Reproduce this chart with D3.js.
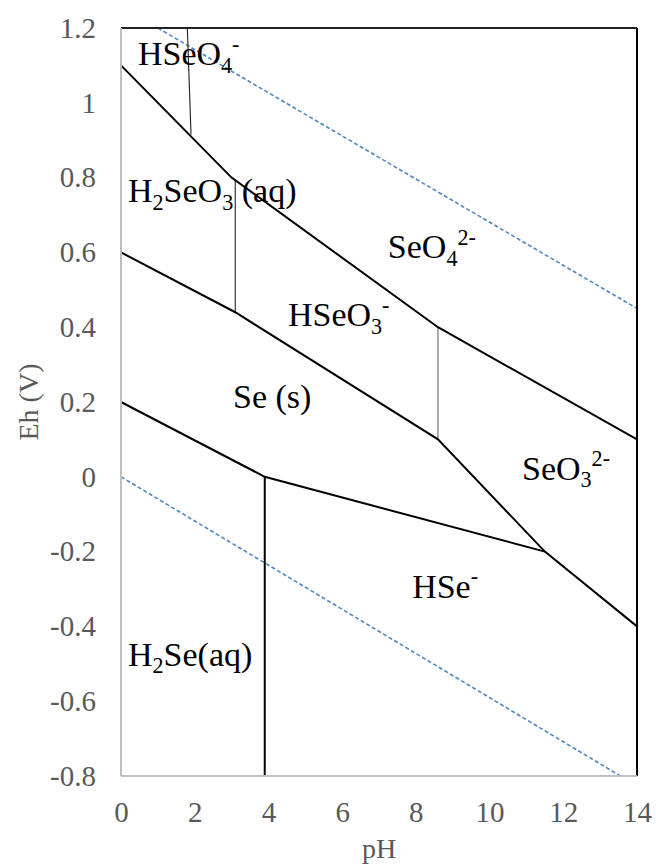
<!DOCTYPE html>
<html>
<head>
<meta charset="utf-8">
<script src="https://cdn.jsdelivr.net/npm/d3@7"></script>
<style>
  body { margin: 0; background: #fff; }
  svg { display: block; }
  svg text { font-family: "Liberation Serif", "Times New Roman", "DejaVu Serif", serif; }
</style>
</head>
<body>
<div id="chart"></div>
<script>
var w = 656;
var h = 867;

// tick labels
var xTicks = [0, 2, 4, 6, 8, 10, 12, 14];
var yTicks = [-0.8, -0.6, -0.4, -0.2, 0, 0.2, 0.4, 0.6, 0.8, 1, 1.2];
var yTickLabels = ["-0.8", "-0.6", "-0.4", "-0.2", "0", "0.2", "0.4", "0.6", "0.8", "1", "1.2"];

// boundary lines, [pH, Eh]
var seO4Line = [[0, 1.1], [3.0, 0.8], [8.6, 0.4], [14, 0.1]];
var seSolidTop = [[0, 0.6], [3.1, 0.44], [8.6, 0.1], [11.5, -0.2], [14, -0.4]];
var seSolidBottom = [[0, 0.2], [3.9, 0], [11.5, -0.2]];
var hseo4Line = [[1.8, 1.2], [1.9, 0.915]];
var h2seo3Line = [[3.1, 0.793], [3.1, 0.44]];
var hseo3Line = [[8.6, 0.4], [8.6, 0.1]];
var h2seLine = [[3.9, 0], [3.9, -0.8]];

// water stability limits
var waterUpper = [[1.0, 1.2], [14, 0.45]];
var waterLower = [[0, 0], [13.55, -0.8]];

// species labels
var speciesParts = [
  [["HSeO", ""], ["4", "sub"], ["-", "sup"]],
  [["H", ""], ["2", "sub"], ["SeO", ""], ["3", "sub"], [" (aq)", ""]],
  [["SeO", ""], ["4", "sub"], ["2-", "sup"]],
  [["HSeO", ""], ["3", "sub"], ["-", "sup"]],
  [["Se (s)", ""]],
  [["SeO", ""], ["3", "sub"], ["2-", "sup"]],
  [["HSe", ""], ["-", "sup"]],
  [["H", ""], ["2", "sub"], ["Se(aq)", ""]],
];
var speciesPH = [0.46, 0.19, 7.24, 4.53, 3.04, 10.88, 7.9, 0.19];
var speciesEh = [1.1, 0.734, 0.584, 0.402, 0.183, -0.008, -0.323, -0.505];

var pL = 121, pR = 637, pT = 28, pB = 776;

var x = d3.scaleLinear().domain([0, 14]).range([pL, pR]);
var y = d3.scaleLinear().domain([-0.8, 1.2]).range([pB, pT]);

var svg = d3.select("#chart").append("svg")
  .attr("width", w)
  .attr("height", h);

svg.append("defs").append("clipPath").attr("id", "plot")
  .append("rect")
  .attr("x", pL).attr("y", pT)
  .attr("width", pR - pL).attr("height", pB - pT);

var line = d3.line()
  .x(function (d) { return x(d[0]); })
  .y(function (d) { return y(d[1]); });

var plot = svg.append("g").attr("clip-path", "url(#plot)");

// water lines (dashed blue)
[waterUpper, waterLower].forEach(function (d) {
  plot.append("path")
    .datum(d)
    .attr("d", line)
    .attr("fill", "none")
    .attr("stroke", "#4f86c0")
    .attr("stroke-width", 1.6)
    .attr("stroke-dasharray", "4,2.5");
});

// thin verticals
[hseo4Line, h2seo3Line].forEach(function (d) {
  plot.append("path").datum(d).attr("d", line)
    .attr("fill", "none").attr("stroke", "#222").attr("stroke-width", 1.1);
});
plot.append("path").datum(hseo3Line).attr("d", line)
  .attr("fill", "none").attr("stroke", "#666").attr("stroke-width", 1.1);

// main boundaries
[seO4Line, seSolidTop, seSolidBottom, h2seLine].forEach(function (d) {
  plot.append("path")
    .datum(d)
    .attr("d", line)
    .attr("fill", "none")
    .attr("stroke", "#000")
    .attr("stroke-width", 2);
});

// frame: grey axes left/bottom, dark top/right
svg.append("line").attr("x1", pL).attr("x2", pR).attr("y1", pT).attr("y2", pT)
  .attr("stroke", "#222").attr("stroke-width", 2);
svg.append("line").attr("x1", pR).attr("x2", pR).attr("y1", pT).attr("y2", pB)
  .attr("stroke", "#000").attr("stroke-width", 2);
svg.append("line").attr("x1", pL).attr("x2", pL).attr("y1", pT).attr("y2", pB)
  .attr("stroke", "#bfbfbf").attr("stroke-width", 2);
svg.append("line").attr("x1", pL).attr("x2", pR).attr("y1", pB).attr("y2", pB)
  .attr("stroke", "#bfbfbf").attr("stroke-width", 2);

// axes
var xAxis = svg.append("g")
  .attr("transform", "translate(0," + pB + ")")
  .call(d3.axisBottom(x).tickValues(xTicks).tickSize(0).tickPadding(25));
var yAxis = svg.append("g")
  .attr("transform", "translate(" + pL + ",0)")
  .call(d3.axisLeft(y).tickValues(yTicks).tickSize(0).tickPadding(25)
    .tickFormat(function (d, i) { return yTickLabels[i]; }));

[xAxis, yAxis].forEach(function (g) {
  g.attr("font-family", null);
  g.select(".domain").remove();
  g.selectAll("text")
    .attr("font-size", 29)
    .attr("fill", "#595959");
});

svg.append("text")
  .attr("x", (pL + pR) / 2)
  .attr("y", 858)
  .attr("text-anchor", "middle")
  .attr("font-size", 28)
  .attr("fill", "#595959")
  .text("pH");

svg.append("text")
  .attr("transform", "translate(38," + (pT + pB) / 2 + ") rotate(-90)")
  .attr("text-anchor", "middle")
  .attr("font-size", 28)
  .attr("fill", "#595959")
  .text("Eh (V)");

// species labels
var fs = 34;
speciesParts.forEach(function (parts, i) {
  var t = svg.append("text")
    .attr("x", x(speciesPH[i]))
    .attr("y", y(speciesEh[i]))
    .attr("font-size", fs)
    .attr("fill", "#000");
  var shift = 0;
  parts.forEach(function (p) {
    var target = p[1] === "sub" ? fs * 0.22 : p[1] === "sup" ? -fs * 0.4 : 0;
    t.append("tspan")
      .attr("dy", target - shift)
      .attr("font-size", p[1] ? fs * 0.65 : fs)
      .text(p[0]);
    shift = target;
  });
});
</script>
</body>
</html>
